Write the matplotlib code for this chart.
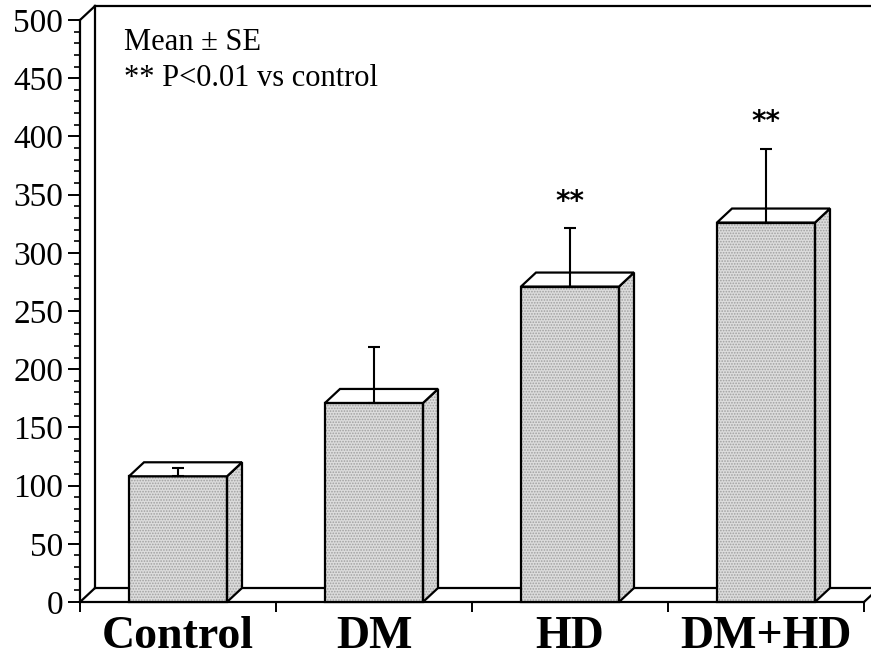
import matplotlib
matplotlib.use('Agg')
import matplotlib.pyplot as plt
from matplotlib.patches import Polygon

groups = ['Control', 'DM', 'HD', 'DM+HD']
means = [108, 171, 271, 326]
se = [7, 48, 50, 63]
marks = ['', '', '**', '**']
y_ticks = [0, 50, 100, 150, 200, 250, 300, 350, 400, 450, 500]

plt.rcParams['font.family'] = ['Liberation Serif', 'DejaVu Serif']
plt.rcParams['hatch.linewidth'] = 0.8

W, H = 871, 661
fig = plt.figure(figsize=(W / 100, H / 100), dpi=100)
ax = fig.add_axes([80 / W, 59 / H, 784 / W, 582 / H])
ax.set_xlim(-0.5, 3.5)
ax.set_ylim(0, 500)

# depth offset of the pseudo 3d box, in pixels
DX, DY = 15, 14


def back(x, y):
    # point shifted by the depth offset, back in data coords
    px, py = ax.transData.transform((x, y))
    return ax.transData.inverted().transform((px + DX, py + DY))


lw = 1.6
# wall and floor
for x0, y0 in [(-0.5, 0), (-0.5, 500), (3.5, 0)]:
    bx, by = back(x0, y0)
    ax.plot([x0, bx], [y0, by], color='black', lw=lw, clip_on=False, zorder=2)
bx0, by0 = back(-0.5, 0)
bx1, by1 = back(-0.5, 500)
ax.plot([bx0, bx1], [by0, by1], color='black', lw=lw, clip_on=False, zorder=2)
ax.plot([bx1, 4.0], [by1, by1], color='black', lw=lw, clip_on=False, zorder=2)
ax.plot([bx0, 4.0], [by0, by0], color='black', lw=lw, clip_on=False, zorder=2)

bw = 0.5
for i, (m, s) in enumerate(zip(means, se)):
    xl, xr = i - bw / 2, i + bw / 2
    front = [(xl, 0), (xr, 0), (xr, m), (xl, m)]
    side = [(xr, 0), tuple(back(xr, 0)), tuple(back(xr, m)), (xr, m)]
    top = [(xl, m), (xr, m), tuple(back(xr, m)), tuple(back(xl, m))]
    for pts in (front, side):
        ax.add_patch(Polygon(pts, closed=True, facecolor='#dcdcdc', edgecolor='#a0a0a0',
                             hatch='......', lw=0, zorder=3, clip_on=False))
        ax.add_patch(Polygon(pts, closed=True, fill=False, edgecolor='black',
                             lw=lw, zorder=4, clip_on=False, joinstyle='miter'))
    ax.add_patch(Polygon(top, closed=True, facecolor='white', edgecolor='black',
                         lw=lw, zorder=4, clip_on=False, joinstyle='miter'))
    ax.errorbar(i, m, yerr=[[0], [s]], fmt='none', ecolor='black', elinewidth=1.5,
                capsize=4, capthick=1.5, zorder=5)
    if marks[i]:
        ax.text(i, m + s + 23, marks[i], ha='center', va='center', fontsize=20,
                fontweight='bold', family=['DejaVu Sans'], zorder=6)

for sp in ['top', 'right']:
    ax.spines[sp].set_visible(False)
ax.spines['left'].set_linewidth(lw)
ax.spines['bottom'].set_linewidth(lw)
ax.spines['bottom'].set_zorder(2)
ax.set_facecolor('none')

ax.set_yticks(y_ticks)
ax.set_yticklabels([str(t) for t in y_ticks], fontsize=24)
ax.set_yticks(range(0, 501, 10), minor=True)
ax.tick_params(axis='y', which='major', direction='out', length=9, width=1.4, pad=3)
ax.tick_params(axis='y', which='minor', direction='out', length=4, width=1.2)

ax.set_xticks(range(len(groups)))
ax.set_xticklabels(groups, fontsize=33, fontweight='bold')
ax.set_xticks([-0.5, 0.5, 1.5, 2.5, 3.5], minor=True)
ax.tick_params(axis='x', which='major', length=0, pad=10)
ax.tick_params(axis='x', which='minor', direction='out', length=7.5, width=1.4)

ax.text(0.056, 0.962, 'Mean ± SE', transform=ax.transAxes, fontsize=22, va='center')
ax.text(0.056, 0.900, '** P<0.01 vs control', transform=ax.transAxes, fontsize=22,
        va='center')

fig.savefig('out.png', dpi=100)
